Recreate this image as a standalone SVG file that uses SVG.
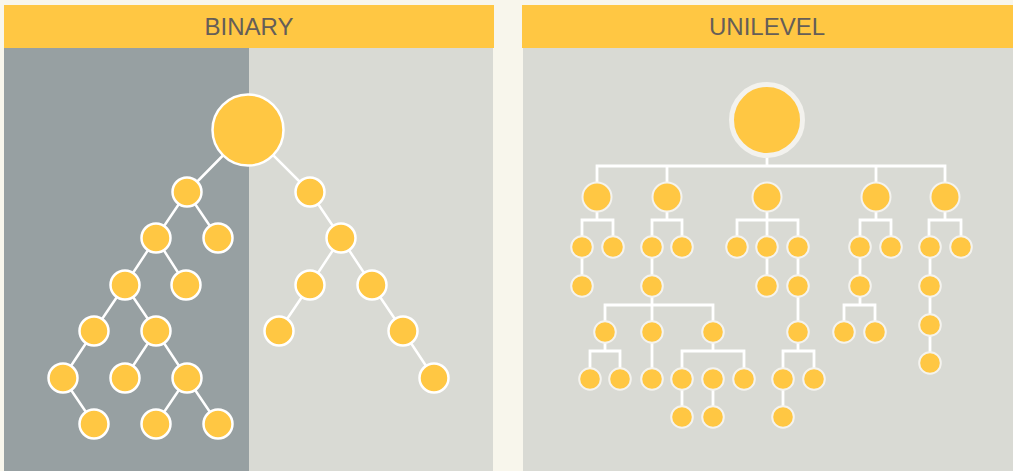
<svg xmlns="http://www.w3.org/2000/svg" width="1013" height="471" viewBox="0 0 1013 471">
<style>
.hdr{fill:#FFC743}
.ttl{font-family:"Liberation Sans",Arial,sans-serif;font-size:24px;fill:#655E58;text-anchor:middle}
.bn{fill:#FFC743;stroke:#ffffff;stroke-width:2.5}
.un{fill:#FFC743;stroke:#f4f3ef;stroke-width:2}
.bl{stroke:#ffffff;stroke-width:2.5;fill:none}
.ul{stroke:#ffffff;stroke-width:2.8;fill:none}
</style>
<rect width="1013" height="471" fill="#F8F6EC"/>
<g id="binary-panel">
<rect x="4" y="48" width="245" height="423" fill="#97A0A2"/>
<rect x="249" y="48" width="244" height="423" fill="#D9DAD4"/>
<rect class="hdr" x="4" y="5" width="490" height="43"/>
<text class="ttl" x="249" y="35">BINARY</text>
</g>
<g id="unilevel-panel">
<rect x="523" y="48" width="490" height="423" fill="#D9DAD4"/>
<rect class="hdr" x="522" y="5" width="491" height="43"/>
<text class="ttl" x="767" y="35">UNILEVEL</text>
</g>
<g id="connectors">
<path class="bl" d="M248 130L187 192M187 192L156 238M187 192L218 238M156 238L125 285M156 238L186 285M125 285L94 331M125 285L156 331M94 331L63 378M156 331L125 378M156 331L187 378M63 378L94 424M187 378L156 424M187 378L218 424M248 130L310 192M310 192L341 238M341 238L310 285M341 238L372 285M310 285L279 331M372 285L403 331M403 331L434 378"/>
<path class="ul" d="M767 150V166M597 197V166H945V197M667 166V197M876 166V197
M597 197V220M582 247V220H613V247
M667 197V220M652 247V220H682V247
M767 197V247M737 247V220H798V247
M876 197V220M860 247V220H891V247
M945 197V220M929 247V220H961V247
M582 247V286M652 247V286M767 247V286M798 247V286M860 247V286M930 247V363
M652 286V305M605 332V305H713V332M652 305V332
M605 332V351M590 379V351H620V379
M652 332V379
M713 332V351M682 379V351H744V379M682 379V417M713 379V417
M798 286V332M798 332V351M783 379V351H814V379M783 379V417
M860 286V305M844 332V305H875V332"/>
</g>
<g id="binary-nodes">
<circle id="b-root" class="bn" cx="248" cy="130" r="35.5" stroke-width="3"/>
<circle id="b1" class="bn" cx="187" cy="192" r="14.5"/>
<circle id="b2" class="bn" cx="156" cy="238" r="14.5"/>
<circle id="b3" class="bn" cx="218" cy="238" r="14.5"/>
<circle id="b4" class="bn" cx="125" cy="285" r="14.5"/>
<circle id="b5" class="bn" cx="186" cy="285" r="14.5"/>
<circle id="b6" class="bn" cx="94" cy="331" r="14.5"/>
<circle id="b7" class="bn" cx="156" cy="331" r="14.5"/>
<circle id="b8" class="bn" cx="63" cy="378" r="14.5"/>
<circle id="b9" class="bn" cx="125" cy="378" r="14.5"/>
<circle id="b10" class="bn" cx="187" cy="378" r="14.5"/>
<circle id="b11" class="bn" cx="94" cy="424" r="14.5"/>
<circle id="b12" class="bn" cx="156" cy="424" r="14.5"/>
<circle id="b13" class="bn" cx="218" cy="424" r="14.5"/>
<circle id="b14" class="bn" cx="310" cy="192" r="14.5"/>
<circle id="b15" class="bn" cx="341" cy="238" r="14.5"/>
<circle id="b16" class="bn" cx="310" cy="285" r="14.5"/>
<circle id="b17" class="bn" cx="372" cy="285" r="14.5"/>
<circle id="b18" class="bn" cx="279" cy="331" r="14.5"/>
<circle id="b19" class="bn" cx="403" cy="331" r="14.5"/>
<circle id="b20" class="bn" cx="434" cy="378" r="14.5"/>
</g>
<g id="unilevel-nodes">
<circle id="u-root" cx="767" cy="120" r="35.5" fill="#FFC743" stroke="#F3F2EE" stroke-width="5"/>
<g id="u-l1">
<circle class="un" cx="597" cy="197" r="14.5" stroke-width="2.5"/>
<circle class="un" cx="667" cy="197" r="14.5" stroke-width="2.5"/>
<circle class="un" cx="767" cy="197" r="14.5" stroke-width="2.5"/>
<circle class="un" cx="876" cy="197" r="14.5" stroke-width="2.5"/>
<circle class="un" cx="945" cy="197" r="14.5" stroke-width="2.5"/>
</g>
<g id="u-l2">
<circle class="un" cx="582" cy="247" r="10.8"/>
<circle class="un" cx="613" cy="247" r="10.8"/>
<circle class="un" cx="652" cy="247" r="10.8"/>
<circle class="un" cx="682" cy="247" r="10.8"/>
<circle class="un" cx="737" cy="247" r="10.8"/>
<circle class="un" cx="767" cy="247" r="10.8"/>
<circle class="un" cx="798" cy="247" r="10.8"/>
<circle class="un" cx="860" cy="247" r="10.8"/>
<circle class="un" cx="891" cy="247" r="10.8"/>
<circle class="un" cx="930" cy="247" r="10.8"/>
<circle class="un" cx="961" cy="247" r="10.8"/>
</g>
<g id="u-l3">
<circle class="un" cx="582" cy="286" r="10.8"/>
<circle class="un" cx="652" cy="286" r="10.8"/>
<circle class="un" cx="767" cy="286" r="10.8"/>
<circle class="un" cx="798" cy="286" r="10.8"/>
<circle class="un" cx="860" cy="286" r="10.8"/>
<circle class="un" cx="930" cy="286" r="10.8"/>
</g>
<g id="u-l4">
<circle class="un" cx="605" cy="332" r="10.8"/>
<circle class="un" cx="652" cy="332" r="10.8"/>
<circle class="un" cx="713" cy="332" r="10.8"/>
<circle class="un" cx="798" cy="332" r="10.8"/>
<circle class="un" cx="844" cy="332" r="10.8"/>
<circle class="un" cx="875" cy="332" r="10.8"/>
<circle class="un" cx="930" cy="325" r="10.8"/>
</g>
<g id="u-l5">
<circle class="un" cx="590" cy="379" r="10.8"/>
<circle class="un" cx="620" cy="379" r="10.8"/>
<circle class="un" cx="652" cy="379" r="10.8"/>
<circle class="un" cx="682" cy="379" r="10.8"/>
<circle class="un" cx="713" cy="379" r="10.8"/>
<circle class="un" cx="744" cy="379" r="10.8"/>
<circle class="un" cx="783" cy="379" r="10.8"/>
<circle class="un" cx="814" cy="379" r="10.8"/>
<circle class="un" cx="930" cy="363" r="10.8"/>
</g>
<g id="u-l6">
<circle class="un" cx="682" cy="417" r="10.8"/>
<circle class="un" cx="713" cy="417" r="10.8"/>
<circle class="un" cx="783" cy="417" r="10.8"/>
</g>
</g>
</svg>
